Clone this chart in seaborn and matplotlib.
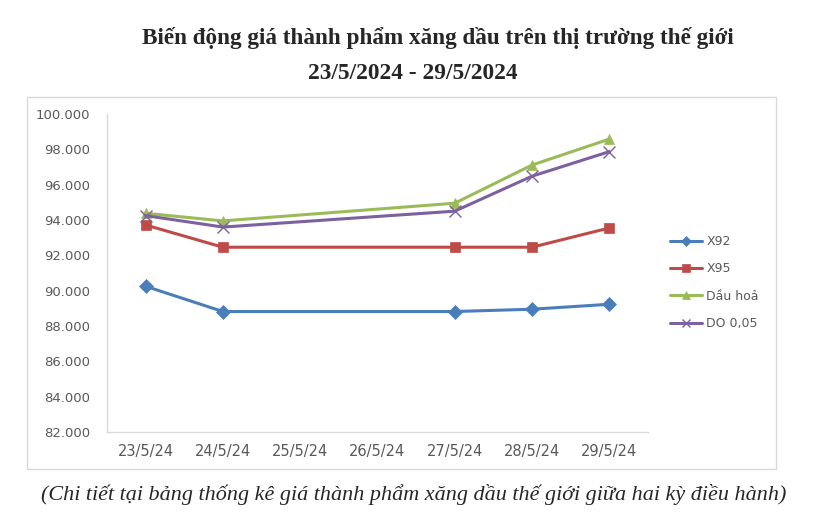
import pandas as pd
import numpy as np
import matplotlib
matplotlib.use("Agg")
import matplotlib.pyplot as plt
import matplotlib.dates as mdates
from matplotlib.patches import Rectangle
from matplotlib.ticker import FuncFormatter
import seaborn as sns

# Data
dates = ["2024-05-23", "2024-05-24", "2024-05-27", "2024-05-28", "2024-05-29"]
x92 = [90250, 88820, 88820, 88950, 89230]
x95 = [93720, 92460, 92460, 92460, 93550]
dau_hoa = [94380, 93950, 94950, 97110, 98580]
do_005 = [94250, 93600, 94500, 96480, 97870]

series_names = ["X92", "X95", "Dầu hoả", "DO 0,05"]
colors = ["#4A7EBB", "#BE4B48", "#9BBB59", "#7D60A0"]
markers = ["D", "s", "^", "x"]

df = pd.DataFrame({"Ngày": pd.to_datetime(dates), "X92": x92, "X95": x95,
                   "Dầu hoả": dau_hoa, "DO 0,05": do_005})
long_df = df.melt(id_vars="Ngày", var_name="Loại", value_name="Giá")

sns.set_style("white")
fig = plt.figure(figsize=(8.16, 5.23), dpi=100)
ax = fig.add_axes([0.131, 0.174, 0.663, 0.608])

for name, c, m in zip(series_names, colors, markers):
    sub = long_df[long_df["Loại"] == name]
    sns.lineplot(data=sub, x="Ngày", y="Giá", ax=ax, color=c, linewidth=2.2,
                 marker=m, markersize=7 if m != "x" else 8,
                 markeredgecolor=c, markeredgewidth=1.0 if m == "x" else 0.5,
                 label=name)

# axes styling
ax.set_ylim(82000, 100000)
ax.set_yticks(np.arange(82000, 100001, 2000))
ax.yaxis.set_major_formatter(FuncFormatter(lambda v, p: f"{v:,.0f}".replace(",", ".")))
ax.set_xlim(pd.Timestamp("2024-05-22 12:00"), pd.Timestamp("2024-05-29 12:00"))
ax.xaxis.set_major_locator(mdates.DayLocator())
ax.xaxis.set_major_formatter(FuncFormatter(lambda v, p: f"{mdates.num2date(v).day}/5/24"))
ax.set_xlabel("")
ax.set_ylabel("")
for s in ["top", "right"]:
    ax.spines[s].set_visible(False)
for s in ["left", "bottom"]:
    ax.spines[s].set_color("#d9d9d9")
    ax.spines[s].set_linewidth(1)
ax.tick_params(axis="y", labelsize=9.5, colors="#595959", length=0, pad=12)
ax.tick_params(axis="x", labelsize=10.5, colors="#595959", length=0, pad=9)
for t in ax.get_yticklabels() + ax.get_xticklabels():
    t.set_fontfamily("DejaVu Sans")

leg = ax.legend(loc="center left", bbox_to_anchor=(1.02, 0.47), frameon=False,
                fontsize=9, handlelength=2.6, labelspacing=1.15, handletextpad=0.3,
                markerscale=0.8)
for t in leg.get_texts():
    t.set_color("#595959")

# chart border
fig.patches.append(Rectangle((0.033, 0.103), 0.918, 0.712, transform=fig.transFigure,
                             fill=False, edgecolor="#d9d9d9", linewidth=1))

# titles
fig.text(0.536, 0.927, "Biến động giá thành phẩm xăng dầu trên thị trường thế giới",
         ha="center", va="center", fontfamily="Liberation Serif", fontweight="bold", fontsize=16.7)
fig.text(0.506, 0.860, "23/5/2024 - 29/5/2024", ha="center", va="center",
         fontfamily="Liberation Serif", fontweight="bold", fontsize=16.8)
fig.text(0.507, 0.055, "(Chi tiết tại bảng thống kê giá thành phẩm xăng dầu thế giới giữa hai kỳ điều hành)",
         ha="center", va="center", fontfamily="Liberation Serif", style="italic", fontsize=15.9)

fig.savefig("out.png", dpi=100)
